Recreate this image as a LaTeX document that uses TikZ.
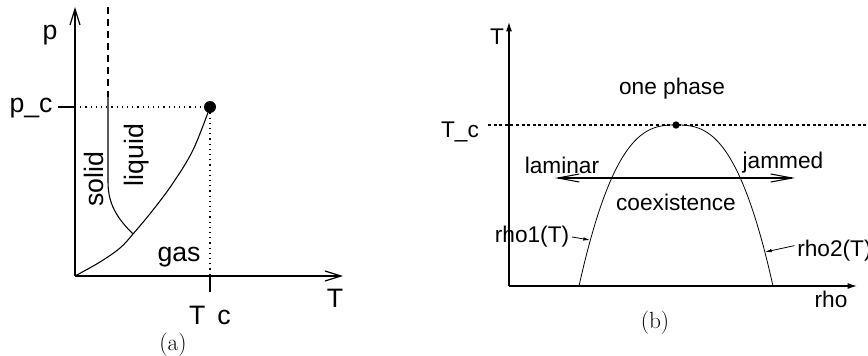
\documentclass[tikz,border=0pt]{standalone}
\usepackage{fontspec}
\newfontfamily\phsans{Liberation Sans}
\usetikzlibrary{arrows.meta}
\begin{document}
\begin{tikzpicture}[x=0.75pt,y=-0.75pt,
  lbla/.style={font=\phsans\fontsize{20}{24}\selectfont, inner sep=0pt},
  lblb/.style={font=\phsans\fontsize{17}{20}\selectfont, inner sep=0pt},
  capt/.style={font=\fontsize{17.5}{20}\selectfont, inner sep=0pt},
  axa/.style={line width=0.9pt, -{Straight Barb[length=12pt,width=7.5pt,line width=0.9pt]}},
  axb/.style={line width=0.9pt, -{Latex[length=7pt,width=4.5pt]}},
  curvea/.style={line width=0.8pt},
  curveb/.style={line width=0.6pt},
  dotline/.style={line width=0.8pt, dash pattern=on 0.9pt off 3pt},
  tcline/.style={line width=0.9pt, dash pattern=on 2.2pt off 2pt},
  dblarrow/.style={line width=1.1pt, {Straight Barb[length=16pt,width=6pt,line width=0.8pt]}-{Straight Barb[length=16pt,width=6pt,line width=0.8pt]}},
  ptr/.style={line width=0.6pt, -{Latex[length=5pt,width=2.6pt]}},
  bigdot/.style={circle, fill=black, inner sep=0pt, minimum size=9pt},
  smalldot/.style={circle, fill=black, inner sep=0pt, minimum size=5.5pt}
]
\useasboundingbox (0,0) rectangle (868,356);

% ---------------- panel (a) ----------------
\coordinate (oa) at (75,276);
\coordinate (ya) at (75,7);
\coordinate (xa) at (343,276);
\draw[axa] (oa) -- (ya);
\draw[axa] (oa) -- (xa);

\node[bigdot] (cp) at (210,107) {};
\coordinate (pcax) at (75,107);
\coordinate (pctick) at (58,107);
\coordinate (tcax) at (210,276);
\coordinate (tctick) at (210,292);
\draw[dotline] (pcax) -- (cp.center) -- (tcax);
\draw[line width=0.9pt] (pctick) -- (pcax);
\draw[line width=0.9pt] (tcax) -- (tctick);

% melting line
\coordinate (mtop) at (108,7);
\coordinate (msolid) at (108,97);
\coordinate (tp) at (133,234);
\draw[curvea, dash pattern=on 5pt off 4pt] (mtop) -- (msolid);
\draw[curvea] (msolid) -- (108,182) .. controls (108,205) and (118,219) .. (tp);
% vapour line
\draw[curvea] plot[smooth, tension=0.6] coordinates {(75,276) (100,262) (120,248) (133,234) (153,210) (173,183) (193,150) (210,107)};

\node[lbla] (plab) at (50,35) {p};
\node[lbla] (pclab) at (31,108) {p\_c};
\node[lbla, rotate=90] (solid) at (94,179) {solid};
\node[lbla, rotate=90] (liquid) at (137,155) {liquid};
\node[lbla] (gas) at (179,257) {gas};
\node[lbla] (Tlab) at (335,298) {T};
\node[lbla, anchor=base] (tclab) at (210,325) {T\hspace{9pt}c};
\node[capt] (capa) at (173,345) {(a)};

% ---------------- panel (b) ----------------
\coordinate (ob) at (509,286);
\coordinate (yb) at (509,22);
\coordinate (xb) at (857,286);
\draw[axb] (ob) -- (yb);
\draw[axb] (ob) -- (xb);

\coordinate (tcl) at (488,125);
\coordinate (tcr) at (868,125);
\draw[tcline] (tcl) -- (tcr);
\node[smalldot] (apex) at (676,125) {};

\draw[curveb] plot[domain=-1:1, samples=100] ({676+97*\x}, {125+161*pow(abs(\x),2.7)});

\coordinate (dl) at (555,178);
\coordinate (dr) at (795,178);
\draw[dblarrow] (dl) -- (dr);

\coordinate (c1) at (590,240);
\coordinate (c2) at (765,252);

\node[lblb] (Tb) at (497,37) {T};
\node[lblb] (Tc) at (460,132) {T\_c};
\node[lblb] (one) at (672,89) {one phase};
\node[lblb] (lam) at (562,165) {laminar};
\node[lblb] (jam) at (783,163) {jammed};
\node[lblb] (coex) at (676,202) {coexistence};
\node[lblb] (rho1) at (532,237) {rho1(T)};
\node[lblb, anchor=west] (rho2) at (797,251) {rho2(T)};
\node[lblb] (rho) at (831,299) {rho};
\node[capt] (capb) at (655,323) {(b)};

\draw[ptr] ([xshift=2pt]rho1.east) -- (c1);
\draw[ptr] ([xshift=-2pt,yshift=4pt]rho2.west) -- (c2);
\end{tikzpicture}
\end{document}
